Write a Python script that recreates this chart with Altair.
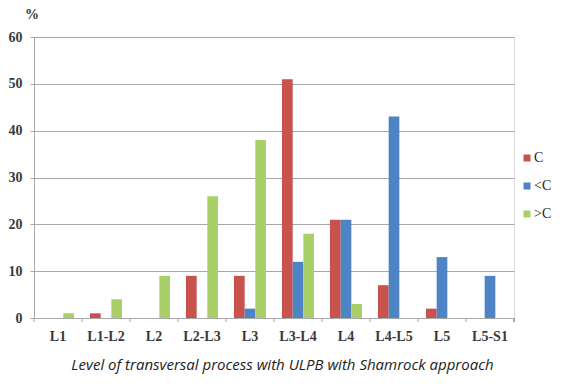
import altair as alt
import pandas as pd

levels = ["L1", "L1-L2", "L2", "L2-L3", "L3", "L3-L4", "L4", "L4-L5", "L5", "L5-S1"]
series = ["C", "<C", ">C"]
c_vals = [0, 1, 0, 9, 9, 51, 21, 7, 2, 0]
lt_vals = [0, 0, 0, 0, 2, 12, 21, 43, 13, 9]
gt_vals = [1, 4, 9, 26, 38, 18, 3, 0, 0, 0]
colors = ["#c8524e", "#4f84c4", "#a9cf68"]

rows = []
for i, lv in enumerate(levels):
    for s, vals in zip(series, [c_vals, lt_vals, gt_vals]):
        rows.append({"level": lv, "series": s, "value": vals[i]})
df = pd.DataFrame(rows)
ticks_df = pd.DataFrame({"level": levels})

W, H = 480, 281
grid = "#a8a8a8"
lab_font = "Liberation Serif"

x_enc = alt.X("level:N", sort=levels,
              scale=alt.Scale(paddingInner=0, paddingOuter=0),
              axis=alt.Axis(title="Level of transversal process with ULPB with Shamrock approach",
                            labelAngle=0, ticks=False, domainColor=grid,
                            labelFont=lab_font, labelFontWeight="bold", labelFontSize=14,
                            labelColor="#3a3a3a", labelPadding=11,
                            titleFont="Open Sans", titleFontStyle="italic", titleFontWeight="normal",
                            titleFontSize=15, titleColor="#222222", titlePadding=14,
                            titleX=248, titleAlign="center"))

bars = alt.Chart(df).mark_bar().encode(
    x=x_enc,
    xOffset=alt.XOffset("series:N", sort=series,
                        scale=alt.Scale(paddingInner=0, paddingOuter=0.75)),
    y=alt.Y("value:Q", scale=alt.Scale(domain=[0, 60]),
            axis=alt.Axis(values=[0, 10, 20, 30, 40, 50, 60], title=None,
                          gridColor=grid, tickColor=grid, domainColor=grid, tickSize=4,
                          labelFont=lab_font, labelFontWeight="bold", labelFontSize=14,
                          labelColor="#3a3a3a", labelPadding=8)),
    color=alt.Color("series:N", sort=series,
                    scale=alt.Scale(domain=series, range=colors),
                    legend=alt.Legend(title=None, orient="none", legendX=486, legendY=114,
                                      padding=0, symbolType="square", symbolSize=49,
                                      symbolStrokeWidth=0, labelLimit=300,
                                      labelFont=lab_font, labelFontSize=14, labelColor="#222222",
                                      rowPadding=14, labelOffset=0)),
)

tick_rules = alt.Chart(ticks_df).mark_rule(color=grid).encode(
    x=alt.X("level:N", sort=levels, bandPosition=0),
    y=alt.value(H), y2=alt.value(H + 4),
)
end_tick = alt.Chart(ticks_df).mark_rule(color=grid).encode(
    x=alt.value(W), y=alt.value(H), y2=alt.value(H + 4),
)
pct = alt.Chart(pd.DataFrame({"t": ["%"]})).mark_text(
    font=lab_font, fontWeight="bold", fontSize=14, color="#333333"
).encode(x=alt.value(-2), y=alt.value(-22), text="t:N")

chart = alt.layer(bars, tick_rules, end_tick, pct).properties(
    width=W, height=H,
    autosize=alt.AutoSizeParams(type="none"),
    padding={"left": 26, "top": 29, "right": 42, "bottom": 58},
).configure_view(stroke=None).configure(background="white")

chart.save("out.html", embed_options={"renderer": "svg", "actions": False})
